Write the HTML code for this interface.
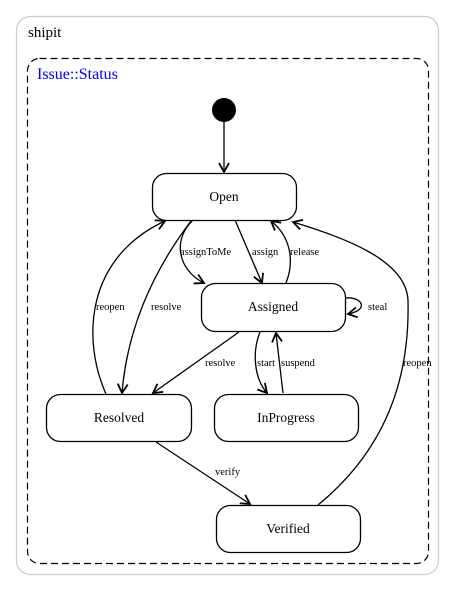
<!DOCTYPE html>
<html><head><meta charset="utf-8"><style>
body{margin:0;background:#fff}
svg{display:block}
text{font-family:"Liberation Serif",serif}
</style></head><body>
<svg width="455" height="591" viewBox="0 0 455 591" xmlns="http://www.w3.org/2000/svg">
<defs>
<marker id="a" markerWidth="12" markerHeight="12" refX="10" refY="6" orient="auto" markerUnits="userSpaceOnUse">
<path d="M1,1 L10,6 L1,11" fill="none" stroke="#000" stroke-width="1.8"/>
</marker>
</defs>
<rect x="16.5" y="16.5" width="422" height="558" rx="14" fill="#fff" stroke="#ccc" stroke-width="1.2"/>
<text x="28" y="37" font-size="15">shipit</text>
<rect x="27.5" y="58.5" width="401" height="505" rx="12" fill="none" stroke="#000" stroke-width="1.2" stroke-dasharray="7,4"/>
<text x="37" y="79" font-size="16" fill="#0000ee">Issue::Status</text>
<circle cx="224" cy="110" r="12"/>
<g fill="#fff" stroke="#000" stroke-width="1.3">
<rect x="152.5" y="173.5" width="144" height="47" rx="14"/>
<rect x="201.5" y="283.5" width="144" height="48" rx="14"/>
<rect x="46.5" y="394.5" width="145" height="47" rx="14"/>
<rect x="214.5" y="394.5" width="144" height="47" rx="14"/>
<rect x="216.5" y="505.5" width="144" height="47" rx="14"/>
</g>
<g font-size="13.5" text-anchor="middle">
<text x="224" y="201">Open</text>
<text x="273" y="311">Assigned</text>
<text x="119" y="422">Resolved</text>
<text x="286" y="422">InProgress</text>
<text x="288" y="533">Verified</text>
</g>
<g fill="none" stroke="#000" stroke-width="1.3" marker-end="url(#a)">
<path d="M224,122 L224,172"/>
<path d="M193,220 C172,240 178,270 204,283"/>
<path d="M235,220 L262,283"/>
<path d="M286,283 C295,260 290,236 271,221"/>
<path d="M345,298 C362,296 370,310 348,314"/>
<path d="M318,505 C385,450 410,380 408,300 C406,260 345,238 293,222"/>
<path d="M191,221 C160,262 128,320 122,393"/>
<path d="M106,394 C82,340 85,258 165,221"/>
<path d="M239,332 L153,393"/>
<path d="M260,332 C252,352 254,378 267,393"/>
<path d="M283,393 L276,333"/>
<path d="M156,442 L250,504"/>
</g>
<g font-size="10.5">
<text x="180" y="255">assignToMe</text>
<text x="252" y="255">assign</text>
<text x="290" y="255">release</text>
<text x="368" y="310">steal</text>
<text x="403" y="366">reopen</text>
<text x="151" y="310">resolve</text>
<text x="96" y="310">reopen</text>
<text x="205" y="366">resolve</text>
<text x="257" y="366">start</text>
<text x="281" y="366">suspend</text>
<text x="215" y="475">verify</text>
</g>
</svg>
</body></html>
